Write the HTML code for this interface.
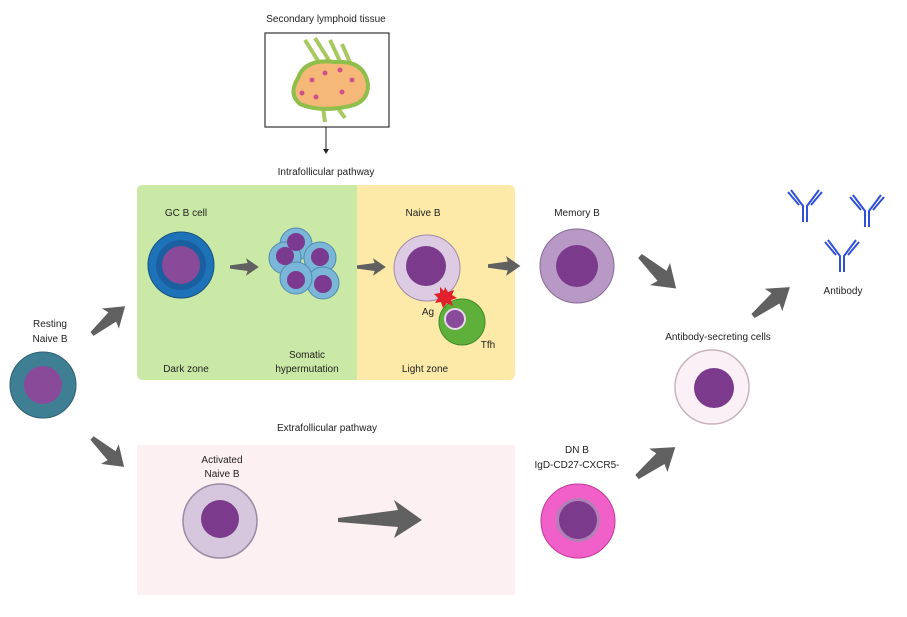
<!DOCTYPE html>
<html><head><meta charset="utf-8"><style>
html,body{margin:0;padding:0;background:#fff}
svg{display:block}
text{font-family:"Liberation Sans",sans-serif;font-size:10px;fill:#222;text-anchor:middle}
</style></head><body>
<svg width="907" height="617" viewBox="0 0 907 617" xmlns="http://www.w3.org/2000/svg">
<defs>
<g id="ar"><path d="M0,-2 L22,-5 L20,-11 L36,0 L20,11 L22,5 L0,2 Z" fill="#606060"/></g>
<g id="ab" stroke="#2f50d8" stroke-width="2" fill="none">
<path d="M-2,22 V6 L-14,-10 M2,22 V6 L14,-10"/>
<path d="M-6,5 L-17,-8 M6,5 L17,-8"/>
</g>
</defs>
<text x="326" y="22">Secondary lymphoid tissue</text>
<rect x="265" y="33" width="124" height="94" fill="#fff" stroke="#333" stroke-width="1.2"/>
<g stroke="#a8c860" stroke-width="4" fill="none"><path d="M305,40 L325,72 M315,38 L335,70 M330,40 L345,72 M342,44 L355,74 M332,100 L345,118 M322,100 L325,122"/></g>
<path d="M298,78 Q305,58 335,62 Q365,60 368,85 Q368,104 345,107 Q318,112 300,104 Q288,94 298,78Z" fill="#f6b878" stroke="#8fbf4a" stroke-width="4"/>
<g fill="#d0508a"><circle cx="312" cy="80" r="2.5"/><circle cx="325" cy="73" r="2.5"/><circle cx="340" cy="70" r="2.5"/><circle cx="352" cy="80" r="2.5"/><circle cx="342" cy="92" r="2.5"/><circle cx="302" cy="93" r="2.5"/><circle cx="316" cy="97" r="2.5"/></g>
<line x1="326" y1="127" x2="326" y2="150" stroke="#222" stroke-width="1"/>
<path d="M323,149 L329,149 L326,154Z" fill="#222"/>
<text x="326" y="175">Intrafollicular pathway</text>
<rect x="137" y="185" width="378" height="195" rx="6" fill="#fde9a8"/>
<path d="M143,185 H357 V380 H143 Q137,380 137,374 V191 Q137,185 143,185Z" fill="#cbe9a6"/>
<text x="186" y="216">GC B cell</text>
<circle cx="181" cy="265" r="33" fill="#1d72b8" stroke="#17507f" stroke-width="1"/>
<circle cx="181" cy="265" r="25" fill="#1a5fa0"/>
<circle cx="181" cy="265" r="19" fill="#8a4a9a"/>
<use href="#ar" transform="translate(230,267) scale(0.8)"/>
<g stroke="#4f8cb0" stroke-width="1">
<circle cx="296" cy="244" r="16" fill="#7ab6d8"/><circle cx="285" cy="258" r="16" fill="#7ab6d8"/><circle cx="320" cy="258" r="16" fill="#7ab6d8"/><circle cx="323" cy="283" r="16" fill="#7ab6d8"/><circle cx="296" cy="278" r="16" fill="#7ab6d8"/>
</g>
<g fill="#7b3a8f"><circle cx="296" cy="242" r="9"/><circle cx="285" cy="256" r="9"/><circle cx="320" cy="257" r="9"/><circle cx="323" cy="284" r="9"/><circle cx="296" cy="280" r="9"/></g>
<use href="#ar" transform="translate(357,267) scale(0.8)"/>
<text x="423" y="216">Naive B</text>
<circle cx="427" cy="268" r="33" fill="#dccbe2" stroke="#a08aaa" stroke-width="1"/>
<circle cx="426" cy="266" r="20" fill="#7b3a8c"/>
<circle cx="462" cy="322" r="23" fill="#5fb03a" stroke="#3d8a25" stroke-width="1"/>
<circle cx="455" cy="319" r="10" fill="#8a4a9a" stroke="#e8d8ee" stroke-width="2"/>
<path d="M445,287 L448,292 L454,290 L452,295 L457,298 L451,300 L453,306 L447,303 L443,308 L441,302 L435,303 L438,298 L434,294 L440,293 L440,287 L444,291Z" fill="#e0202a"/>
<text x="428" y="315">Ag</text>
<text x="488" y="348">Tfh</text>
<text x="186" y="372">Dark zone</text>
<text x="307" y="358">Somatic</text>
<text x="307" y="372">hypermutation</text>
<text x="425" y="372">Light zone</text>
<use href="#ar" transform="translate(488,266) scale(0.9)"/>
<text x="577" y="216">Memory B</text>
<circle cx="577" cy="266" r="37" fill="#b898c4" stroke="#8a6a96" stroke-width="1"/>
<circle cx="577" cy="266" r="21" fill="#7b3a8c"/>
<use href="#ar" transform="translate(640,256) rotate(42) scale(1.35)"/>
<text x="718" y="340">Antibody-secreting cells</text>
<circle cx="712" cy="387" r="37" fill="#fbf0f5" stroke="#c8b4bc" stroke-width="1.5"/>
<circle cx="714" cy="388" r="20" fill="#7b3a8c"/>
<use href="#ar" transform="translate(753,316) rotate(-38) scale(1.3)"/>
<use href="#ab" transform="translate(805,200)"/>
<use href="#ab" transform="translate(867,205)"/>
<use href="#ab" transform="translate(842,250)"/>
<text x="843" y="294">Antibody</text>
<text x="50" y="327">Resting</text>
<text x="50" y="342">Naive B</text>
<circle cx="43" cy="385" r="33" fill="#3e7f93" stroke="#2d6070" stroke-width="1"/>
<circle cx="43" cy="385" r="19" fill="#8a4a9a"/>
<use href="#ar" transform="translate(92,334) rotate(-40) scale(1.2)"/>
<use href="#ar" transform="translate(92,438) rotate(42) scale(1.2)"/>
<text x="327" y="431">Extrafollicular pathway</text>
<rect x="137" y="445" width="378" height="150" fill="#fdf0f3"/>
<text x="222" y="463">Activated</text>
<text x="222" y="477">Naive B</text>
<circle cx="220" cy="521" r="37" fill="#d6c6de" stroke="#9a8aa2" stroke-width="1.5"/>
<circle cx="220" cy="519" r="19" fill="#7b3a8c"/>
<path d="M338,518 L398,510 L394,500 L422,520 L394,538 L398,527 L338,522Z" fill="#606060"/>
<text x="577" y="453">DN B</text>
<text x="577" y="468">IgD-CD27-CXCR5-</text>
<circle cx="578" cy="521" r="37" fill="#f060c8" stroke="#c03a98" stroke-width="1"/>
<circle cx="578" cy="520" r="22" fill="#b080b8"/>
<circle cx="578" cy="520" r="19" fill="#7b3a8c"/>
<use href="#ar" transform="translate(637,477) rotate(-38) scale(1.35)"/>
</svg>
</body></html>
